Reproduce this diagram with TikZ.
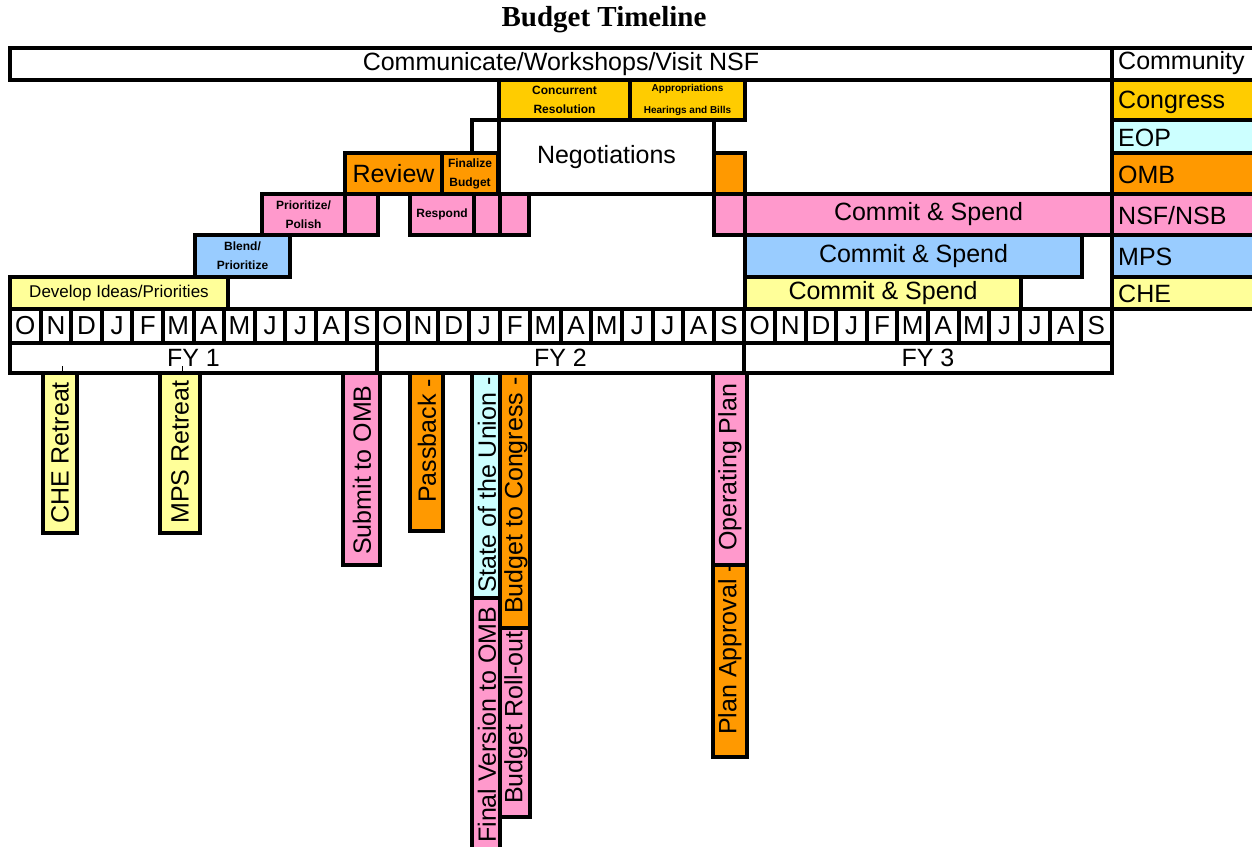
\documentclass[tikz,border=0pt]{standalone}
\usepackage{fontspec}
\setmainfont{Liberation Sans}
\newfontfamily\titlefont{Liberation Serif}
\definecolor{cyel}{HTML}{FFFF99}
\definecolor{cblu}{HTML}{99CCFF}
\definecolor{cpnk}{HTML}{FF99CC}
\definecolor{corg}{HTML}{FF9900}
\definecolor{cgld}{HTML}{FFCC00}
\definecolor{ccyn}{HTML}{CCFFFF}
\tikzset{
  cellbox/.style={draw=black, line width=4pt, inner sep=0pt, outer sep=0pt},
  big/.style={font=\fontsize{25}{29}\selectfont},
  mon/.style={font=\fontsize{26}{29}\selectfont},
  mid/.style={font=\fontsize{17}{20}\selectfont},
  small/.style={font=\fontsize{12}{19}\selectfont\bfseries, align=center},
  tiny/.style={font=\fontsize{10}{22}\selectfont\bfseries, align=center},
  vlab/.style={rotate=90, anchor=west, inner sep=0pt, font=\fontsize{25}{29}\selectfont},
  leg/.style={anchor=west, inner sep=0pt, font=\fontsize{25}{29}\selectfont},
  tick/.style={draw=black, line width=1pt},
}
\newcommand\cell[7][]{%
  \pgfmathsetmacro\cw{#5-#3}\pgfmathsetmacro\ch{#6-#4}%
  \node[cellbox,minimum width=\cw pt,minimum height=\ch pt,#1] (#2) at ({(#3+#5)/2},{(#4+#6)/2}) {#7};}
\begin{document}
\begin{tikzpicture}[x=1pt,y=-1pt]
\useasboundingbox (0,0) rectangle (1252,846);
\node[font=\titlefont\bfseries\fontsize{29}{34}\selectfont] (title) at (604,20) {Budget Timeline};
% top bar and legend
\cell[big,fill=white]{comm}{10}{48}{1112}{80}{Communicate/Workshops/Visit NSF}
\cell[fill=white]{lcomm}{1112}{48}{1270}{80}{}
\cell[fill=cgld]{lcong}{1112}{80}{1270}{120}{}
\cell[fill=ccyn]{leop}{1112}{120}{1270}{153}{}
\cell[fill=corg]{lomb}{1112}{153}{1270}{194}{}
\cell[fill=cpnk]{lnsf}{1112}{194}{1270}{235}{}
\cell[fill=cblu]{lmps}{1112}{235}{1270}{277}{}
\cell[fill=cyel]{lche}{1112}{277}{1270}{309}{}
\node[leg] (tcomm) at (1118,63) {Community};
\node[leg] (tcong) at (1118,102) {Congress};
\node[leg] (teop) at (1118,138) {EOP};
\node[leg] (tomb) at (1118,175) {OMB};
\node[leg] (tnsf) at (1118,216) {NSF/NSB};
\node[leg] (tmps) at (1118,257) {MPS};
\node[leg] (tche) at (1118,294) {CHE};
% FY1 / FY2 lanes
\cell[mid,fill=cyel]{dev}{10}{277}{228}{309}{Develop Ideas/Priorities}
\cell[small,fill=cblu]{blend}{195}{235}{290}{277}{Blend/\\Prioritize}
\cell[small,fill=cpnk]{polish}{262}{194}{345}{235}{Prioritize/\\Polish}
\cell[fill=cpnk]{p1}{345}{194}{378}{235}{}
\cell[big,fill=corg]{review}{345}{153}{442}{194}{Review}
\cell[small,fill=corg]{final}{442}{153}{498}{194}{Finalize\\Budget}
\cell[small,fill=cpnk]{respond}{410}{194}{474}{235}{Respond}
\cell[fill=cpnk]{p2}{474}{194}{500}{235}{}
\cell[fill=cpnk]{p3}{500}{194}{529}{235}{}
\cell[fill=white]{eopbox}{472}{120}{500}{153}{}
\cell[big,fill=white]{nego}{499}{120}{714}{194}{Negotiations}
\cell[small,fill=cgld]{conc}{499}{80}{630}{120}{Concurrent\\Resolution}
\cell[tiny,fill=cgld]{appr}{630}{80}{745}{120}{Appropriations\\Hearings and Bills}
\cell[fill=corg]{o2}{714}{153}{745}{194}{}
\cell[fill=cpnk]{p4}{714}{194}{745}{235}{}
% FY3 lanes
\cell[big,fill=cpnk]{cs1}{745}{194}{1112}{235}{Commit \& Spend}
\cell[big,fill=cblu]{cs2}{745}{235}{1082}{277}{Commit \& Spend}
\cell[big,fill=cyel]{cs3}{745}{277}{1021}{309}{Commit \& Spend}
% months
\foreach \m [count=\i from 0] in {O,N,D,J,F,M,A,M,J,J,A,S,O,N,D,J,F,M,A,M,J,J,A,S,O,N,D,J,F,M,A,M,J,J,A,S} {
  \pgfmathsetmacro\xa{10+30.6*\i}\pgfmathsetmacro\xb{10+30.6*(\i+1)}
  \cell[mon,fill=white]{m\i}{\xa}{309}{\xb}{343}{\m}
}
\cell[big,fill=white]{fy1}{10}{343}{377}{373}{FY 1}
\cell[big,fill=white]{fy2}{377}{343}{744}{373}{FY 2}
\cell[big,fill=white]{fy3}{744}{343}{1112}{373}{FY 3}
% vertical bars
\cell[fill=cyel]{che}{43}{373}{77}{533}{}
\cell[fill=cyel]{mps}{160}{373}{200}{533}{}
\cell[fill=cpnk]{sub}{343}{373}{380}{565}{}
\cell[fill=corg]{pass}{410}{373}{443}{531}{}
\cell[fill=cpnk]{fin}{472}{598}{500}{870}{}
\cell[fill=ccyn]{sotu}{472}{373}{500}{598}{}
\cell[fill=cpnk]{roll}{500}{628}{530}{817}{}
\cell[fill=corg]{btc}{500}{373}{530}{628}{}
\cell[fill=corg]{plan}{713}{565}{747}{757}{}
\cell[fill=cpnk]{oper}{713}{373}{747}{565}{}
\node[vlab] (tche2) at (60,524) {CHE Retreat};
\node[vlab] (tmps2) at (180,524) {MPS Retreat};
\node[vlab] (tsub) at (362,555) {Submit to OMB};
\node[vlab] (tpass) at (427,503) {Passback -};
\node[vlab] (tsotu) at (487,593) {State of the Union -};
\node[vlab] (tfin) at (487,843) {Final Version to OMB};
\node[vlab] (tbtc) at (516,614) {Budget to Congress -};
\node[vlab] (troll) at (516,804) {Budget Roll-out};
\node[vlab] (toper) at (730,551) {Operating Plan};
\node[vlab] (tplan) at (730,735) {Plan Approval -};
% ticks
\coordinate (k1) at (62,366); \coordinate (k2) at (182,366);
\draw[tick] (k1) -- (k1 |- che.north);
\draw[tick] (k2) -- (k2 |- mps.north);
\end{tikzpicture}
\end{document}
